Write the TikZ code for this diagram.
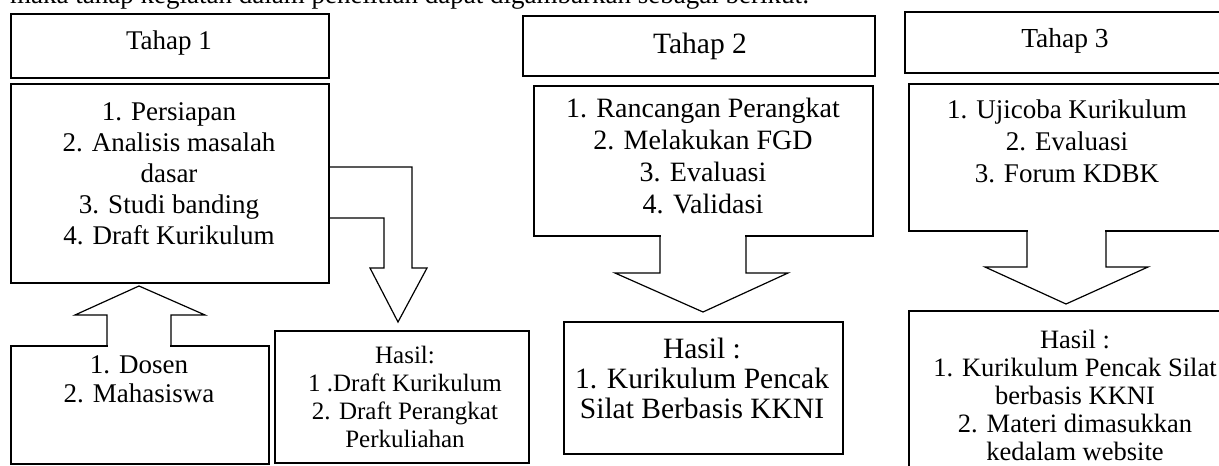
\documentclass[tikz,border=0pt]{standalone}
\usepackage{fontspec}
\setmainfont{Liberation Serif}
\begin{document}
\begin{tikzpicture}[x=1pt,y=-1pt,
  box/.style={draw, line width=1.6pt, inner sep=0pt, anchor=north west},
  blk/.style={draw, line width=1.2pt, line join=miter},
  txt/.style={align=center, anchor=base, inner sep=0pt},
  fa/.style={font=\fontsize{27}{31}\selectfont},
  fb/.style={font=\fontsize{29.5}{30}\selectfont},
  fc/.style={font=\fontsize{25}{28}\selectfont},
  fd/.style={font=\fontsize{26.5}{28}\selectfont},
  fe/.style={font=\fontsize{28}{31.7}\selectfont}]
\useasboundingbox (0,0) rectangle (1219,466);

% intro line (cut at top)
\node[anchor=base west, inner sep=0pt, fa] (intro) at (10,3) {maka tahap kegiatan dalam penelitian dapat digambarkan sebagai berikut:};

% boxes
\node[box, minimum width=318pt, minimum height=64pt] (t1) at (10,13) {};
\node[box, minimum width=318pt, minimum height=199pt] (l1) at (10,83) {};
\node[box, minimum width=258pt, minimum height=118pt] (dos) at (10,345) {};
\node[box, minimum width=254pt, minimum height=132pt] (h1) at (274,330) {};
\node[box, minimum width=352pt, minimum height=60pt] (t2) at (522,15) {};
\node[box, minimum width=339pt, minimum height=150pt] (l2) at (533,85) {};
\node[box, minimum width=279pt, minimum height=132pt] (h2) at (563,321) {};
\node[box, minimum width=322pt, minimum height=61pt] (t3) at (904,11) {};
\node[box, minimum width=318pt, minimum height=147pt] (l3) at (908,83) {};
\node[box, minimum width=330pt, minimum height=170pt] (h3) at (908,310) {};

% texts (base = baseline of last line)
\node[txt, fa] (t1t) at (169,49) {Tahap 1};
\node[txt, fa] (l1t) at (169,244) {1. Persiapan\\2. Analisis masalah\\dasar\\3. Studi banding\\4. Draft Kurikulum};
\node[txt, font=\fontsize{27}{29}\selectfont] (dost) at (139,402) {1. Dosen\\2. Mahasiswa};
\node[txt, fc] (h1t) at (405,447) {Hasil:\\1 .Draft Kurikulum\\2. Draft Perangkat\\Perkuliahan};
\node[txt, fb] (t2t) at (700,53) {Tahap 2};
\node[txt, fe] (l2t) at (703,213) {1. Rancangan Perangkat\\2. Melakukan FGD\\3. Evaluasi\\4. Validasi};
\node[txt, fb] (h2t) at (702,418) {Hasil :\\1. Kurikulum Pencak\\Silat Berbasis KKNI};
\node[txt, font=\fontsize{27.5}{31}\selectfont] (t3t) at (1065,47) {Tahap 3};
\node[txt, font=\fontsize{27}{32}\selectfont] (l3t) at (1067,182) {1. Ujicoba Kurikulum\\2. Evaluasi\\3. Forum KDBK};
\node[txt, fd] (h3t) at (1075,460) {Hasil :\\1. Kurikulum Pencak Silat\\berbasis KKNI\\2. Materi dimasukkan\\kedalam website};

% block arrows
% Tahap 1 list -> Hasil 1 (bent)
\draw[blk] (l1.east |- 0,167) -- (412,167) -- (412,268) -- (427,268) -- (398,322) -- (370,268) -- (384,268) -- (384,218) -- (l1.east |- 0,218);
% Dosen -> Tahap 1 list (up)
\fill[white] (108,342) rectangle (170,348);
\draw[blk] (dos.north -| 107,0) -- (107,315) -- (75,315) -- (139,286) -- (205,315) -- (171,315) -- (dos.north -| 171,0);
% Tahap 2 list -> Hasil 2
\fill[white] (661,232) rectangle (745,238);
\draw[blk] (l2.south -| 660,0) -- (660,273) -- (615,273) -- (703,312) -- (788,273) -- (746,273) -- (l2.south -| 746,0);
% Tahap 3 list -> Hasil 3
\fill[white] (1028,227) rectangle (1105,233);
\draw[blk] (l3.south -| 1027,0) -- (1027,267) -- (985,267) -- (1066,304) -- (1148,267) -- (1106,267) -- (l3.south -| 1106,0);
\end{tikzpicture}
\end{document}
